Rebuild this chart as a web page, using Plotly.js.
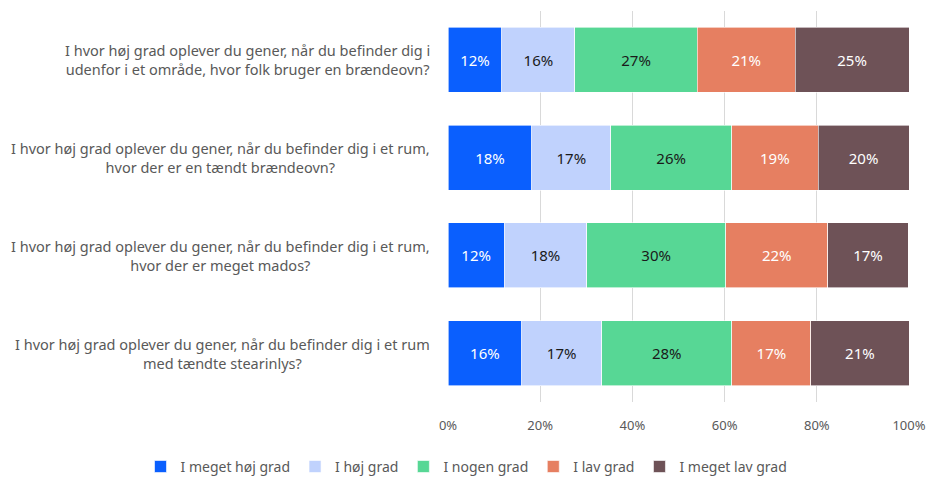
<!DOCTYPE html>
<html>
<head>
<meta charset="utf-8">
<script src="https://cdn.plot.ly/plotly-3.0.1.min.js"></script>
<style>html,body{margin:0;padding:0;background:#fff;}#chart{width:927px;height:477px;}</style>
</head>
<body>
<div id="chart"></div>
<script>
const categories = [
  "I hvor høj grad oplever du gener, når du befinder dig i<br>udenfor i et område, hvor folk bruger en brændeovn?",
  "I hvor høj grad oplever du gener, når du befinder dig i et rum,<br>hvor der er en tændt brændeovn?",
  "I hvor høj grad oplever du gener, når du befinder dig i et rum,<br>hvor der er meget mados?",
  "I hvor høj grad oplever du gener, når du befinder dig i et rum<br>med tændte stearinlys?"
];
const seriesNames = ["I meget høj grad", "I høj grad", "I nogen grad", "I lav grad", "I meget lav grad"];
const meget_hoej = [11.7, 18.2, 12.2, 16.0];
const hoej = [15.8, 17.1, 17.9, 17.3];
const nogen = [26.6, 26.2, 30.1, 28.3];
const lav = [21.2, 18.8, 22.2, 17.1];
const meget_lav = [24.7, 19.7, 17.4, 21.3];
const xTicks = [0, 20, 40, 60, 80, 100];
const xTickLabels = ["0%", "20%", "40%", "60%", "80%", "100%"];

const seriesValues = [meget_hoej, hoej, nogen, lav, meget_lav];
const colors = ["#0A5FFE", "#C0D2FD", "#57D795", "#E67F61", "#6E5257"];
const textColors = ["#ffffff", "#1a1a1a", "#1a1a1a", "#ffffff", "#ffffff"];
const font = "Noto Sans, Open Sans, sans-serif";

const traces = seriesNames.map((name, i) => ({
  type: "bar",
  orientation: "h",
  name: name,
  x: seriesValues[i],
  y: categories,
  marker: {color: colors[i], line: {color: "#ffffff", width: 0.6}},
  texttemplate: "%{x:.0f}%",
  textposition: "inside",
  insidetextanchor: "middle",
  textangle: 0,
  textfont: {family: font, size: 15, color: textColors[i]},
  hoverinfo: "skip"
}));

const annotations = categories.map(c => ({
  xref: "paper", yref: "y",
  x: 0, y: c,
  xanchor: "right", yanchor: "middle",
  xshift: -16,
  text: c,
  align: "center",
  showarrow: false,
  font: {family: font, size: 14.5, color: "#595959"}
}));

const layout = {
  width: 927, height: 477,
  margin: {l: 448, r: 18, t: 11, b: 75, autoexpand: false},
  barmode: "stack",
  bargap: 0.337,
  paper_bgcolor: "#ffffff",
  plot_bgcolor: "#ffffff",
  showlegend: true,
  legend: {
    orientation: "h",
    traceorder: "normal",
    xref: "paper", yref: "paper",
    x: -0.667, xanchor: "left",
    y: -0.166, yanchor: "middle",
    font: {family: font, size: 14, color: "#595959"},
    itemwidth: 30,
    tracegroupgap: 0
  },
  xaxis: {
    range: [0, 100],
    tickvals: xTicks,
    ticktext: xTickLabels,
    showgrid: true,
    gridcolor: "#D9D9D9",
    gridwidth: 1,
    zeroline: false,
    showline: false,
    ticks: "",
    ticklabelstandoff: 14,
    tickfont: {family: font, size: 13, color: "#595959"},
    fixedrange: true
  },
  yaxis: {
    autorange: "reversed",
    showticklabels: false,
    showgrid: false,
    zeroline: false,
    showline: false,
    ticks: "",
    fixedrange: true
  },
  annotations: annotations
};

Plotly.newPlot("chart", traces, layout, {displayModeBar: false, staticPlot: true});
</script>
</body>
</html>
